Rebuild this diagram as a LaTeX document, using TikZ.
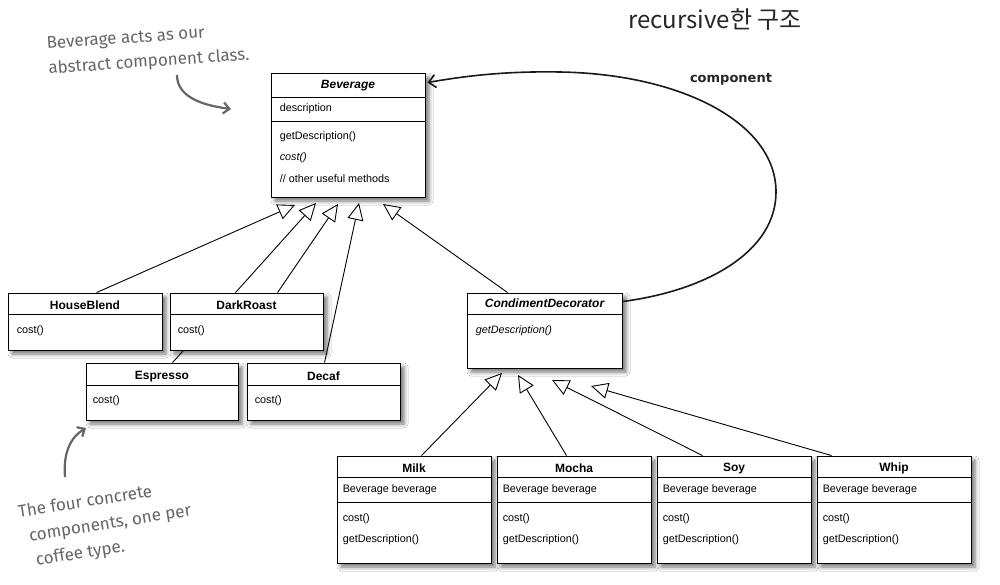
\documentclass[tikz,border=0pt]{standalone}
\usepackage{fontspec}
\setmainfont{Liberation Sans}
\newfontfamily\korfont{Noto Sans CJK KR}
\newfontfamily\handfont{Fira Sans}
\newfontfamily\labfont{DejaVu Sans}
\usetikzlibrary{arrows.meta,shadows.blur,calc}
\definecolor{handgray}{HTML}{666666}
\begin{document}
\begin{tikzpicture}[x=1pt,y=-1pt,
  cls/.style={draw=black, line width=0.9pt, fill=white, inner sep=0pt,
    blur shadow={shadow xshift=4pt, shadow yshift=-4pt, shadow blur radius=4pt, shadow opacity=55}},
  div/.style={draw=black, line width=0.8pt},
  ttl/.style={font=\bfseries\fontsize{12}{14}\selectfont, inner sep=0pt, anchor=center},
  ttli/.style={font=\bfseries\itshape\fontsize{12}{14}\selectfont, inner sep=0pt, anchor=center},
  txt/.style={font=\fontsize{10.8}{13}\selectfont, inner sep=0pt, anchor=west},
  txti/.style={font=\itshape\fontsize{10.8}{13}\selectfont, inner sep=0pt, anchor=west},
  plain/.style={draw=black, line width=0.9pt},
  inh/.style={draw=black, line width=0.9pt, -{Triangle[open, length=17pt, width=16pt, fill=white]}},
  assoc/.style={draw=black!90, line width=1.6pt, -{Straight Barb[length=7pt, width=13pt]}},
  hand/.style={font=\handfont\fontsize{17}{25}\selectfont, text=handgray, inner sep=0pt, align=left},
  handarrow/.style={draw=handgray, line width=2.2pt, -{Straight Barb[length=6pt, width=11pt]}}
]
\fill[white] (0,0) rectangle (1000,584);
\useasboundingbox (0,0) rectangle (1000,584);

% ---------- Beverage ----------
\node[cls, minimum width=154, minimum height=124] (bev) at (348,135) {};
\draw[div] ($(bev.north west)+(0,25)$) -- ($(bev.north east)+(0,25)$);
\draw[div] ($(bev.north west)+(0,49)$) -- ($(bev.north east)+(0,49)$);
\node[ttli] (bevT) at ($(bev.north)+(0,13)$) {Beverage};
\node[txt] (bevA) at ($(bev.north west)+(9,36)$) {description};
\node[txt] (bevM1) at ($(bev.north west)+(9,64)$) {getDescription()};
\node[txti] (bevM2) at ($(bev.north west)+(9,85)$) {cost()};
\node[txt] (bevM3) at ($(bev.north west)+(9,106)$) {// other useful methods};

% ---------- concrete components ----------
\node[cls, minimum width=154, minimum height=57] (hb) at (85,321.5) {};
\draw[div] ($(hb.north west)+(0,22)$) -- ($(hb.north east)+(0,22)$);
\node[ttl] (hbT) at ($(hb.north)+(0,13)$) {HouseBlend};
\node[txt] (hbM) at ($(hb.north west)+(9,38)$) {cost()};

\node[cls, minimum width=153, minimum height=57] (dr) at (246.5,321.5) {};
\draw[div] ($(dr.north west)+(0,22)$) -- ($(dr.north east)+(0,22)$);
\node[ttl] (drT) at ($(dr.north)+(0,13)$) {DarkRoast};
\node[txt] (drM) at ($(dr.north west)+(8,38)$) {cost()};

\node[cls, minimum width=152, minimum height=57] (es) at (162,391.5) {};
\draw[div] ($(es.north west)+(0,23)$) -- ($(es.north east)+(0,23)$);
\node[ttl] (esT) at ($(es.north)+(0,14)$) {Espresso};
\node[txt] (esM) at ($(es.north west)+(7,38)$) {cost()};

\node[cls, minimum width=153, minimum height=57] (dc) at (323.5,391.5) {};
\draw[div] ($(dc.north west)+(0,23)$) -- ($(dc.north east)+(0,23)$);
\node[ttl] (dcT) at ($(dc.north)+(0,14)$) {Decaf};
\node[txt] (dcM) at ($(dc.north west)+(8,38)$) {cost()};

% ---------- CondimentDecorator ----------
\node[cls, minimum width=155, minimum height=75] (cd) at (544.5,330.5) {};
\draw[div] ($(cd.north west)+(0,22)$) -- ($(cd.north east)+(0,22)$);
\node[ttli] (cdT) at ($(cd.north)+(0,11)$) {CondimentDecorator};
\node[txti] (cdM) at ($(cd.north west)+(9,38)$) {getDescription()};

% ---------- decorators ----------
\foreach \nm/\lab/\cx in {milk/Milk/414, mocha/Mocha/574, soy/Soy/734, whip/Whip/894}{
  \node[cls, minimum width=154, minimum height=107] (\nm) at (\cx,509.5) {};
  \draw[div] ($(\nm.north west)+(0,22)$) -- ($(\nm.north east)+(0,22)$);
  \draw[div] ($(\nm.north west)+(0,47)$) -- ($(\nm.north east)+(0,47)$);
  \node[ttl] (\nm T) at ($(\nm.north)+(0,13)$) {\lab};
  \node[txt] (\nm A) at ($(\nm.north west)+(6,34)$) {Beverage beverage};
  \node[txt] (\nm M1) at ($(\nm.north west)+(6,63)$) {cost()};
  \node[txt] (\nm M2) at ($(\nm.north west)+(6,84)$) {getDescription()};
}

% ---------- connector end points ----------
\coordinate (bt1) at (295,205);
\coordinate (bt2) at (316,203);
\coordinate (bt3) at (338,204);
\coordinate (bt4) at (359,203);
\coordinate (bt5) at (383,204);
\coordinate (hbA) at ($(hb.north west)+(89,0)$);
\coordinate (esA) at ($(es.north west)+(87,0)$);
\coordinate (drA) at ($(dr.north west)+(108,0)$);
\coordinate (dcA) at ($(dc.north west)+(78,0)$);
\coordinate (cdA) at ($(cd.north west)+(41,0)$);

\coordinate (ct1) at (502,373);
\coordinate (ct2) at (518,375);
\coordinate (ct3) at (552,380);
\coordinate (ct4) at (591,386);
\coordinate (milkA) at ($(milk.north west)+(85,0)$);
\coordinate (mochaA) at ($(mocha.north west)+(70,0)$);
\coordinate (soyA) at ($(soy.north west)+(46,0)$);
\coordinate (whipA) at ($(whip.north west)+(15,0)$);

% Espresso line passes behind DarkRoast: draw only the visible parts
\coordinate (esB) at (intersection of esA--bt2 and dr.south west--dr.south east);
\coordinate (esC) at (intersection of esA--bt2 and dr.north west--dr.north east);
\draw[plain] (esA) -- (esB);
\draw[inh] (esC) -- (bt2);

\draw[inh] (hbA) -- (bt1);
\draw[inh] (drA) -- (bt3);
\draw[inh] (dcA) -- (bt4);
\draw[inh] (cdA) -- (bt5);

\draw[inh] (milkA) -- (ct1);
\draw[inh] (mochaA) -- (ct2);
\draw[inh] (soyA) -- (ct3);
\draw[inh] (whipA) -- (ct4);

% ---------- component association ----------
\coordinate (cdR) at ($(cd.north east)+(0,9)$);
\coordinate (bevR) at ($(bev.north east)+(2,10)$);
\draw[assoc] (cdR) .. controls (710,290) and (776,250) .. (776,192)
  .. controls (776,122) and (680,74) .. (560,72)
  .. controls (505,71) and (465,76) .. (bevR);
\node[font=\labfont\bfseries\fontsize{13}{15}\selectfont, text=black!85, inner sep=0pt] (complab) at (731,79) {component};

% ---------- title ----------
\node[font=\korfont\fontsize{24}{28}\selectfont, text=black!85, inner sep=0pt] (title) at (715,20) {recursive한 구조};

% ---------- handwritten notes ----------
\node[hand, rotate=4, anchor=north west] (note1) at (46,37) {Beverage acts as our\\abstract component class.};
\coordinate (n1s) at (177,75);
\coordinate (n1e) at (231,109);
\draw[handarrow] (n1s) .. controls (177,96) and (200,105) .. (n1e);

\node[hand, rotate=9, anchor=north west] (note2) at (17,505) {The four concrete\\\hspace*{7pt}components, one per\\\hspace*{10pt}coffee type.};
\coordinate (n2s) at (65,477);
\coordinate (n2e) at (86,428);
\draw[handarrow] (n2s) .. controls (63,452) and (71,437) .. (n2e);
\end{tikzpicture}
\end{document}
